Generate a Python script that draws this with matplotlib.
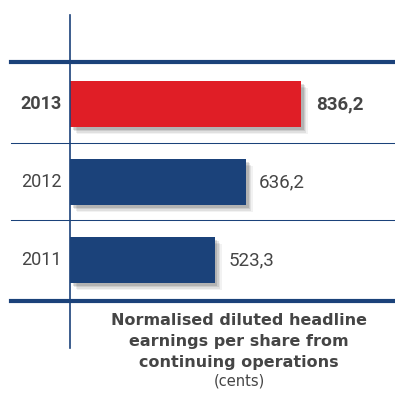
import matplotlib
matplotlib.use('Agg')
import matplotlib.pyplot as plt
import matplotlib.patheffects as pe

years = ['2011', '2012', '2013']
values = [523.3, 636.2, 836.2]
value_labels = ['523,3', '636,2', '836,2']
highlight = '2013'

blue = '#1b427a'
red = '#e01e26'
grey = '#454545'

fig = plt.figure(figsize=(3.95, 3.97), dpi=100)
ax = fig.add_axes([0, 0, 1, 1])
ax.set_xlim(-254, 1177)
ax.set_ylim(-1.756, 3.333)
ax.axis('off')

pos = list(range(len(years)))
colors = [red if y == highlight else blue for y in years]
bars = ax.barh(pos, values, height=0.59, color=colors, zorder=3)

# soft drop shadow under the bars
for b in bars:
    b.set_path_effects([
        pe.SimplePatchShadow(offset=(5, -5), shadow_rgbFace='#000000', alpha=0.05),
        pe.SimplePatchShadow(offset=(4, -4), shadow_rgbFace='#000000', alpha=0.07),
        pe.SimplePatchShadow(offset=(3, -3), shadow_rgbFace='#000000', alpha=0.09),
        pe.SimplePatchShadow(offset=(2, -2), shadow_rgbFace='#000000', alpha=0.12),
        pe.Normal()])

for p, y, v, lab in zip(pos, years, values, value_labels):
    bold = y == highlight
    w = 'bold' if bold else 'normal'
    ax.text(-29, p, y, ha='right', va='center', fontsize=13, fontweight=w,
            color=grey, family='Roboto')
    ax.text(v + (55 if bold else 49), p, lab, ha='left', va='center',
            fontsize=13.5, fontweight=w, color=grey, family='Roboto')

# grid lines
x0 = 11 / 395
ax.axhline(2.54, xmin=x0, xmax=1, color=blue, lw=3, zorder=2)
ax.axhline(-0.53, xmin=x0, xmax=1, color=blue, lw=3, zorder=2)
for yy in [1.5, 0.51]:
    ax.axhline(yy, xmin=x0, xmax=1, color=blue, lw=0.75, zorder=2)
ax.plot([0, 0], [-1.13, 3.14], color=blue, lw=1.2, zorder=4)

# caption
cx = 612
cap = ['Normalised diluted headline', 'earnings per share from',
       'continuing operations']
for line, yy in zip(cap, [-0.78, -1.05, -1.31]):
    ax.text(cx, yy, line, ha='center', va='center', fontsize=11.5,
            fontweight='bold', color=grey, family='DejaVu Sans')
ax.text(cx, -1.55, '(cents)', ha='center', va='center', fontsize=10.5,
        color=grey, family='DejaVu Sans')

fig.savefig('out.png', dpi=100)
